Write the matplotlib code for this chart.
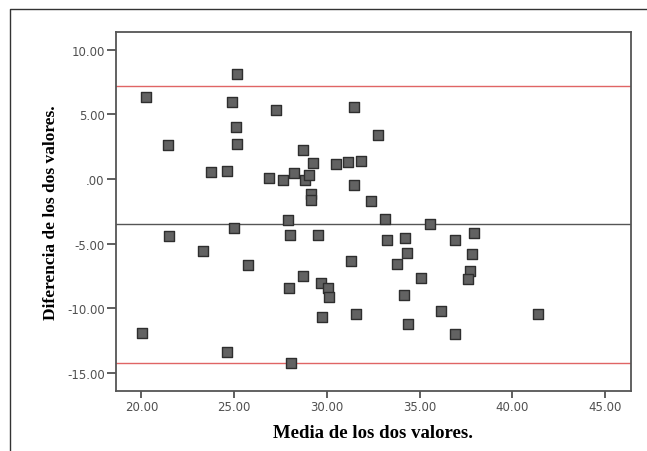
import numpy as np
import matplotlib.pyplot as plt
from matplotlib.lines import Line2D
from matplotlib.ticker import FuncFormatter

# Mean of the two values (x) and difference (y)
media = [20.27, 25.16, 24.90, 27.28, 31.46, 25.12, 21.42, 25.16, 32.78, 28.73,
         29.24, 30.49, 31.15, 31.82, 23.76, 24.61, 26.86, 27.64, 28.24, 28.84,
         29.06, 31.46, 29.15, 29.17, 32.36, 27.93, 33.16, 35.58, 24.99, 21.47,
         27.99, 29.53, 33.22, 34.23, 36.92, 37.92, 23.32, 34.31, 37.81, 25.74,
         31.31, 33.78, 37.72, 37.61, 28.73, 35.07, 29.66, 27.97, 30.06, 30.11,
         34.18, 29.73, 31.60, 36.18, 41.39, 34.38, 20.02, 36.90, 24.61, 28.08]
diferencia = [6.35, 8.15, 5.99, 5.36, 5.54, 4.03, 2.67, 2.75, 3.38, 2.28,
              1.27, 1.19, 1.32, 1.40, 0.57, 0.65, 0.10, -0.08, 0.49, -0.09,
              0.33, -0.43, -1.13, -1.65, -1.68, -3.14, -3.09, -3.45, -3.79, -4.39,
              -4.36, -4.31, -4.70, -4.55, -4.70, -4.18, -5.54, -5.75, -5.77, -6.66,
              -6.37, -6.58, -7.10, -7.75, -7.49, -7.62, -8.04, -8.40, -8.43, -9.13,
              -9.00, -10.70, -10.41, -10.23, -10.41, -11.17, -11.90, -12.00, -13.36, -14.22]

media_dif = -3.50
lim_sup = 7.21
lim_inf = -14.22

xticks = [20, 25, 30, 35, 40, 45]
yticks = [10, 5, 0, -5, -10, -15]

fig = plt.figure(figsize=(6.47, 4.52), dpi=100)
ax = fig.add_axes([0.179, 0.133, 0.7955, 0.794])

ax.scatter(media, diferencia, marker='s', s=42, facecolor='#626262',
           edgecolor='#2e2e2e', linewidths=1.0, zorder=3)

ax.axhline(lim_sup, color='#e06565', lw=1.0, zorder=2)
ax.axhline(lim_inf, color='#e06565', lw=1.0, zorder=2)
ax.axhline(media_dif, color='#555555', lw=1.0, zorder=2)

ax.set_xlim(18.62, 46.38)
ax.set_ylim(-16.38, 11.38)
ax.set_xticks(xticks)
ax.set_yticks(yticks)


def fmt(v, pos):
    s = '%.2f' % v
    if s == '0.00':
        s = '.00'
    return s


ax.xaxis.set_major_formatter(FuncFormatter(fmt))
ax.yaxis.set_major_formatter(FuncFormatter(fmt))
ax.tick_params(direction='out', width=1.2, color='#444444',
               labelsize=8.5, labelcolor='#505050', pad=1.5)
ax.tick_params(axis='x', length=5)
ax.tick_params(axis='y', length=6.5)
for lab in ax.get_xticklabels() + ax.get_yticklabels():
    lab.set_family('DejaVu Sans')

for sp in ax.spines.values():
    sp.set_color('#555555')
    sp.set_linewidth(1.3)

ax.set_xlabel('Media de los dos valores.', family='Liberation Serif',
              fontweight='bold', fontsize=13.5, labelpad=8)
ax.set_ylabel('Diferencia de los dos valores.', family='Liberation Serif',
              fontweight='bold', fontsize=12.5, labelpad=6)

# outer frame (clipped box)
fig.add_artist(Line2D([10 / 647, 10 / 647, 1.0], [0.0, 1 - 10 / 452, 1 - 10 / 452],
                      transform=fig.transFigure, color='#333333', lw=1.0))

fig.savefig('out.png', dpi=100)
